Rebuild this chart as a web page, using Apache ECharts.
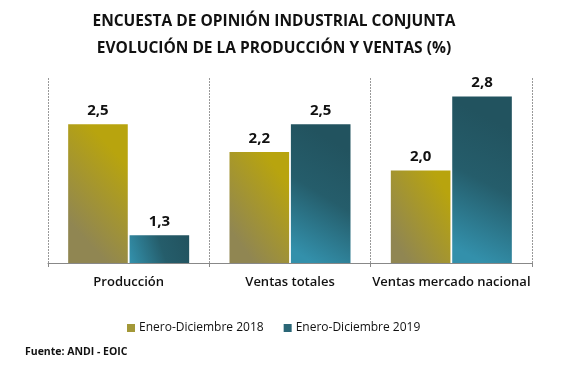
<!DOCTYPE html>
<html>
<head>
<meta charset="utf-8">
<script src="https://cdn.jsdelivr.net/npm/echarts@6/dist/echarts.min.js"></script>
<style>html,body{margin:0;padding:0;background:#fff}#c{width:580px;height:374px}</style>
</head>
<body>
<div id="c"></div>
<script>
const categories = ['Producción', 'Ventas totales', 'Ventas mercado nacional'];
const series2018 = [2.5, 2.2, 2.0];
const series2019 = [1.3, 2.5, 2.8];
const seriesNames = ['Enero-Diciembre 2018', 'Enero-Diciembre 2019'];
const titleLines = ['ENCUESTA DE OPINIÓN INDUSTRIAL CONJUNTA', 'EVOLUCIÓN DE LA PRODUCCIÓN Y VENTAS (%)'];
const sourceText = 'Fuente: ANDI - EOIC';

const FONT = '"Open Sans", "Liberation Sans", sans-serif';
const grad2018 = new echarts.graphic.LinearGradient(0, 0.7, 1, 0.3, [
  {offset: 0, color: '#908652'}, {offset: 1, color: '#b8a40e'}
]);
const grad2019 = new echarts.graphic.LinearGradient(0, 0.9, 1, 0.2, [
  {offset: 0, color: '#3390ab'}, {offset: 0.55, color: '#255d6b'}, {offset: 1, color: '#22535f'}
]);
const fmt = p => p.value.toFixed(1).replace('.', ',');

const chart = echarts.init(document.getElementById('c'), null, {renderer: 'canvas'});
chart.setOption({
  animation: false,
  backgroundColor: '#ffffff',
  title: {
    text: titleLines.join('\n'),
    left: 269, top: 3, textAlign: 'center',
    textStyle: {fontFamily: FONT, fontSize: 15.5, fontWeight: 'bold', color: '#111', lineHeight: 27}
  },
  graphic: [{
    type: 'text', left: 25, top: 347,
    style: {text: sourceText, fontFamily: FONT, fontSize: 10.5, fontWeight: 'bold', fill: '#111'}
  }],
  legend: {
    data: [
      {name: seriesNames[0], itemStyle: {color: '#a39838'}},
      {name: seriesNames[1], itemStyle: {color: '#2a6676'}}
    ],
    left: 122, top: 317,
    itemWidth: 8, itemHeight: 8, itemGap: 20,
    icon: 'rect',
    textStyle: {fontFamily: FONT, fontSize: 12, color: '#111', padding: [0, 0, 0, -1]}
  },
  grid: {left: 48, right: 48, top: 78, bottom: 111, containLabel: false},
  xAxis: {
    type: 'category', data: categories,
    axisLine: {show: true, lineStyle: {color: '#888', width: 1}},
    axisTick: {show: true, length: 4, lineStyle: {color: '#888'}},
    axisLabel: {interval: 0, fontFamily: FONT, fontSize: 13, fontWeight: 600, color: '#111', margin: 13},
    splitLine: {show: true, lineStyle: {color: '#999', type: [2, 1], width: 1}}
  },
  yAxis: {
    type: 'value', min: 1, max: 3, show: false,
    splitLine: {show: false}
  },
  series: [
    {
      name: seriesNames[0], type: 'bar', data: series2018,
      barCategoryGap: '25%', barGap: '3%',
      itemStyle: {color: grad2018},
      label: {show: true, position: 'top', distance: 6, formatter: fmt,
        fontFamily: FONT, fontSize: 15, fontWeight: 'bold', color: '#111'}
    },
    {
      name: seriesNames[1], type: 'bar', data: series2019,
      barCategoryGap: '25%', barGap: '3%',
      itemStyle: {color: grad2019},
      label: {show: true, position: 'top', distance: 6, formatter: fmt,
        fontFamily: FONT, fontSize: 15, fontWeight: 'bold', color: '#111'}
    }
  ]
});
</script>
</body>
</html>
